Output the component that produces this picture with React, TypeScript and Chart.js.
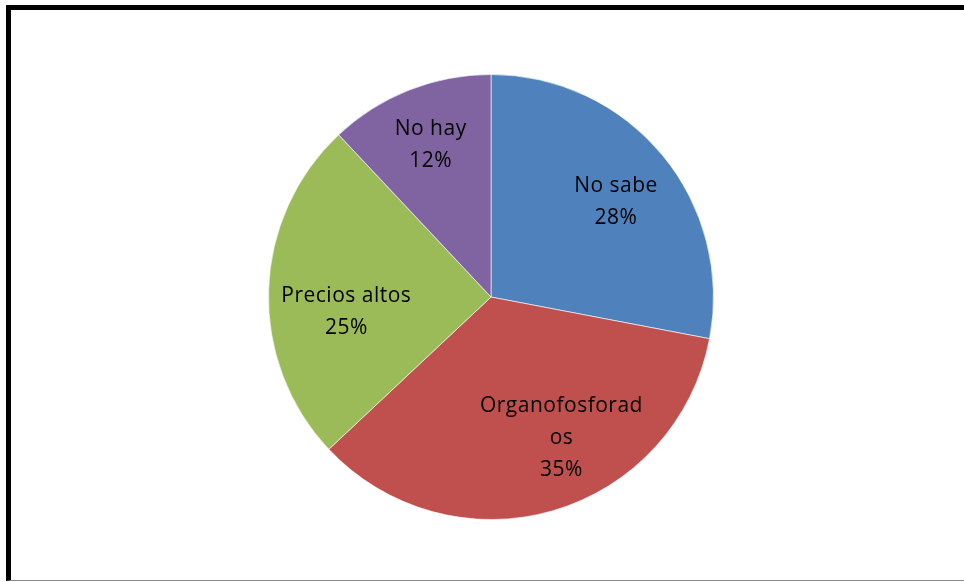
import React, { useEffect, useRef } from "react";
import { Chart, registerables } from "chart.js";

Chart.register(...registerables);

const categories = ["No sabe", "Organofosforados", "Precios altos", "No hay"];
const values = [28, 35, 25, 12];
const labelLines = [
  ["No sabe", "28%"],
  ["Organofosforad", "os", "35%"],
  ["Precios altos", "25%"],
  ["No hay", "12%"],
];
const colors = ["#4F81BD", "#C0504D", "#9BBB59", "#8064A2"];
// label placement tweaks (style only)
const labelNudge = [
  [5, 4],
  [27, -9],
  [11, 20],
  [-3, -7],
];

const labelPlugin = {
  id: "sliceLabels",
  afterDatasetsDraw(chart: any) {
    const meta = chart.getDatasetMeta(0);
    const ctx = chart.ctx;
    ctx.save();
    ctx.font = "21px 'Open Sans'";
    try {
      (ctx as any).letterSpacing = "0.5px";
    } catch (e) {}
    ctx.fillStyle = "#000";
    ctx.textAlign = "center";
    ctx.textBaseline = "middle";
    const lh = 32;
    meta.data.forEach((arc: any, i: number) => {
      const { x, y, startAngle, endAngle, outerRadius } = arc.getProps(
        ["x", "y", "startAngle", "endAngle", "outerRadius"],
        true
      );
      const mid = (startAngle + endAngle) / 2;
      const d = outerRadius * 0.7;
      const cx = x + Math.cos(mid) * d + labelNudge[i][0];
      const cy = y + Math.sin(mid) * d + labelNudge[i][1];
      const lines = labelLines[i];
      const top = cy - ((lines.length - 1) * lh) / 2;
      lines.forEach((t, k) => ctx.fillText(t, cx, top + k * lh));
    });
    ctx.restore();
  },
};

export default function App() {
  const ref = useRef<HTMLCanvasElement | null>(null);
  useEffect(() => {
    document.body.style.margin = "0";
    const chart = new Chart(ref.current!, {
      type: "pie",
      data: {
        labels: categories,
        datasets: [
          {
            data: values,
            backgroundColor: colors,
            borderColor: "rgba(255,255,255,0.6)",
            borderWidth: 1,
          },
        ],
      },
      options: {
        animation: false,
        responsive: false,
        maintainAspectRatio: false,
        layout: { padding: { left: 268, right: 250, top: 74, bottom: 62 } },
        plugins: {
          legend: { display: false },
          tooltip: { enabled: false },
        },
      },
      plugins: [labelPlugin],
    });
    return () => chart.destroy();
  }, []);
  return (
    <div style={{ position: "relative", width: 964, height: 582, overflow: "hidden", background: "#fff" }}>
      <div
        style={{
          position: "absolute",
          left: 6,
          top: 5,
          width: 1000,
          height: 576,
          borderLeft: "5px solid #000",
          borderTop: "5px solid #000",
          borderBottom: "1px solid #888",
          boxSizing: "border-box",
        }}
      />
      <canvas ref={ref} width={964} height={582} style={{ position: "absolute", left: 0, top: 0 }} />
    </div>
  );
}
